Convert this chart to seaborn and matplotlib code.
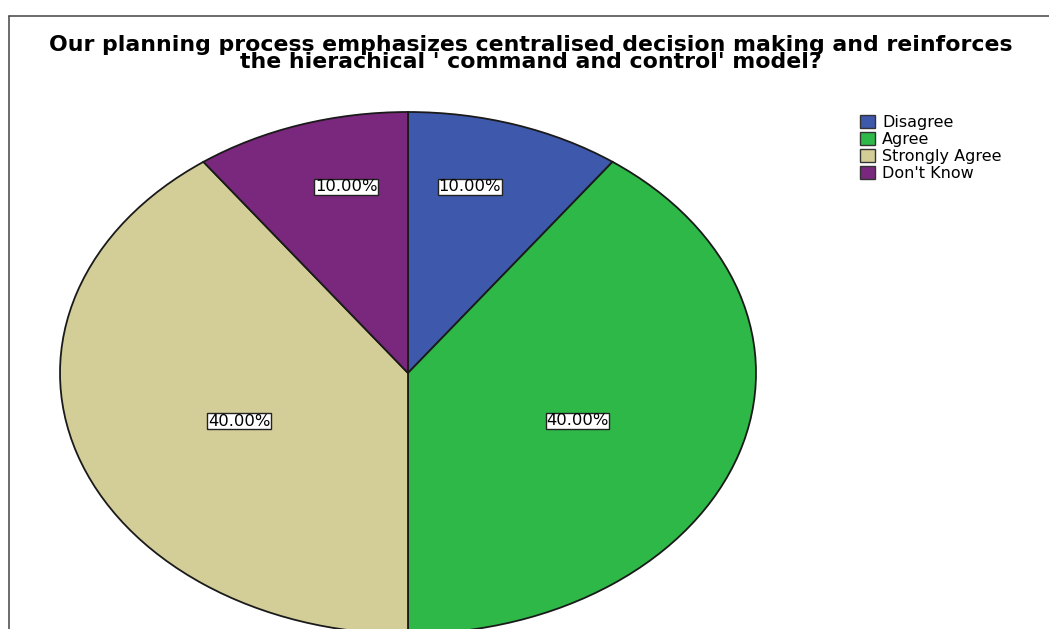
import numpy as np
import matplotlib
matplotlib.use("Agg")
import matplotlib.pyplot as plt
from matplotlib.lines import Line2D
import seaborn as sns

# Survey responses (share of respondents, %)
categories = ["Disagree", "Agree", "Strongly Agree", "Don't Know"]
percentages = [10.0, 40.0, 40.0, 10.0]
colors = ["#3E58AC", "#2EB848", "#D3CE97", "#7A287D"]
title_lines = [
    "Our planning process emphasizes centralised decision making and reinforces",
    "the hierachical ' command and control' model?",
]

sns.set_theme(style="white")
plt.rcParams["font.family"] = ["DejaVu Sans"]

W, H, DPI = 1049, 629, 100
fig = plt.figure(figsize=(W / DPI, H / DPI), dpi=DPI)
fig.patch.set_facecolor("white")
ax = fig.add_axes([0, 0, 1, 1])

wedges, _ = ax.pie(
    percentages,
    colors=colors,
    startangle=90,
    counterclock=False,
    radius=1.0,
    wedgeprops=dict(edgecolor="#1a1a1a", linewidth=1.3),
)

# Stretch the pie into an ellipse: centre at (408, 373) px,
# horizontal radius 348 px, vertical radius 261 px.
cx, cy, rx, ry = 408, 373, 348, 261
ax.set_aspect("auto")
ax.set_xlim(-cx / rx, (W - cx) / rx)
ax.set_ylim(-(H - cy) / ry, cy / ry)
ax.axis("off")

# Percentage labels inside each slice
label_radius = [0.735, 0.52, 0.52, 0.735]
label_shift = [4.0, -2.7, 2.9, -4.0]
for w, pct, r, d in zip(wedges, percentages, label_radius, label_shift):
    mid = np.deg2rad((w.theta1 + w.theta2) / 2 + d)
    ax.text(
        r * np.cos(mid), r * np.sin(mid), f"{pct:.2f}%",
        ha="center", va="center", fontsize=11.8, color="black",
        bbox=dict(boxstyle="square,pad=0.03", facecolor="white",
                  edgecolor="#222222", linewidth=1.0),
    )

# Title (two lines, tightly spaced)
fig.text(531 / W, 1 - 35 / H, "\n".join(title_lines), ha="center", va="top",
         multialignment="center", linespacing=0.82,
         fontsize=15.8, fontweight="bold", color="black")

# Legend
leg = ax.legend(
    wedges, categories,
    loc="upper left",
    bbox_to_anchor=(860 / W, 1 - 115 / H),
    bbox_transform=fig.transFigure,
    frameon=False, fontsize=11.5,
    handlelength=0.95, handleheight=0.85, handletextpad=0.45,
    labelspacing=0.12, borderpad=0, borderaxespad=0,
)
for h in leg.legend_handles:
    h.set_edgecolor("#333333")
    h.set_linewidth(1.0)
for t in leg.get_texts():
    t.set_color("black")

# Chart frame (top and left border)
fig.add_artist(Line2D([8.5 / W, 1.0], [1 - 15.5 / H, 1 - 15.5 / H],
                      transform=fig.transFigure, color="#444444", linewidth=1.1))
fig.add_artist(Line2D([8.5 / W, 8.5 / W], [1 - 15.5 / H, 0.0],
                      transform=fig.transFigure, color="#444444", linewidth=1.1))

fig.savefig("out.png", dpi=DPI, facecolor="white")
